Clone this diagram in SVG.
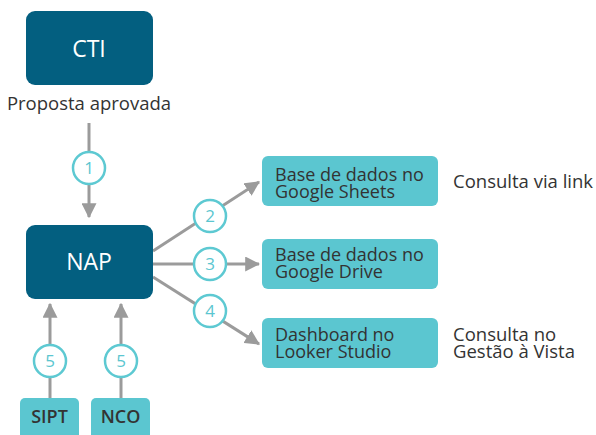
<svg xmlns="http://www.w3.org/2000/svg" width="596" height="435" viewBox="0 0 596 435">
<style>
.dark{fill:#035F80}
.light{fill:#5BC6D0}
.tw{font-family:"Open Sans","Noto Sans",sans-serif;fill:#fff;font-size:23px;font-weight:500;text-anchor:middle}
.td{font-family:"Open Sans","Noto Sans",sans-serif;fill:#333;font-size:18px;font-weight:500}
.tb{font-family:"Open Sans","Noto Sans",sans-serif;fill:#333;font-size:18px;font-weight:600;text-anchor:middle}
.lbl{font-family:"Open Sans","Noto Sans",sans-serif;fill:#333;font-size:18.5px;font-weight:500}
.ln{stroke:#9B9B9B;stroke-width:3;fill:none}
.num circle{fill:#fff;stroke:#5DC9D2;stroke-width:2.5}
.num text{font-family:"Open Sans","Noto Sans",sans-serif;fill:#5BC6D0;font-size:17px;text-anchor:middle}
</style>
<defs>
<marker id="ah" markerWidth="5" markerHeight="5" refX="4.6" refY="2.5" orient="auto" markerUnits="strokeWidth">
<path d="M0,0 L5,2.5 L0,5 Z" fill="#9B9B9B"/>
</marker>
</defs>
<g id="connectors">
<line class="ln" x1="89" y1="123" x2="89" y2="217" marker-end="url(#ah)"/>
<line class="ln" x1="153" y1="251" x2="259" y2="182" marker-end="url(#ah)"/>
<line class="ln" x1="153" y1="264" x2="259" y2="264" marker-end="url(#ah)"/>
<line class="ln" x1="153" y1="277" x2="259" y2="344" marker-end="url(#ah)"/>
<line class="ln" x1="50" y1="398" x2="50" y2="304" marker-end="url(#ah)"/>
<line class="ln" x1="121" y1="398" x2="121" y2="304" marker-end="url(#ah)"/>
<g class="num"><circle cx="89" cy="168" r="16"/><text x="89" y="174">1</text></g>
<g class="num"><circle cx="210" cy="216" r="16"/><text x="210" y="222">2</text></g>
<g class="num"><circle cx="210" cy="264" r="16"/><text x="210" y="270">3</text></g>
<g class="num"><circle cx="210" cy="311" r="16"/><text x="210" y="317">4</text></g>
<g class="num"><circle cx="50" cy="361" r="16"/><text x="50" y="367">5</text></g>
<g class="num"><circle cx="121" cy="361" r="16"/><text x="121" y="367">5</text></g>
</g>
<g id="cti">
<rect class="dark" x="26" y="11" width="127" height="74" rx="9"/>
<text class="tw" x="89" y="57">CTI</text>
</g>
<g id="proposta">
<text class="lbl" x="89" y="110" text-anchor="middle">Proposta aprovada</text>
</g>
<g id="nap">
<rect class="dark" x="26" y="225" width="127" height="74" rx="9"/>
<text class="tw" x="89" y="270">NAP</text>
</g>
<g id="sipt">
<rect class="light" x="20" y="398" width="59" height="42" rx="5"/>
<text class="tb" x="49.5" y="423">SIPT</text>
</g>
<g id="nco">
<rect class="light" x="91" y="398" width="59" height="42" rx="5"/>
<text class="tb" x="120.5" y="423">NCO</text>
</g>
<g id="sheets">
<rect class="light" x="262" y="156" width="176" height="50" rx="6"/>
<text class="td" x="275" y="181">Base de dados no</text>
<text class="td" x="275" y="198">Google Sheets</text>
</g>
<g id="drive">
<rect class="light" x="262" y="239" width="176" height="50" rx="6"/>
<text class="td" x="275" y="261">Base de dados no</text>
<text class="td" x="275" y="278">Google Drive</text>
</g>
<g id="looker">
<rect class="light" x="262" y="318" width="176" height="50" rx="6"/>
<text class="td" x="275" y="341">Dashboard no</text>
<text class="td" x="275" y="358">Looker Studio</text>
</g>
<g id="consulta-link">
<text class="lbl" x="453" y="188">Consulta via link</text>
</g>
<g id="consulta-gestao">
<text class="lbl" x="453" y="341">Consulta no</text>
<text class="lbl" x="453" y="358">Gestão à Vista</text>
</g>
</svg>
